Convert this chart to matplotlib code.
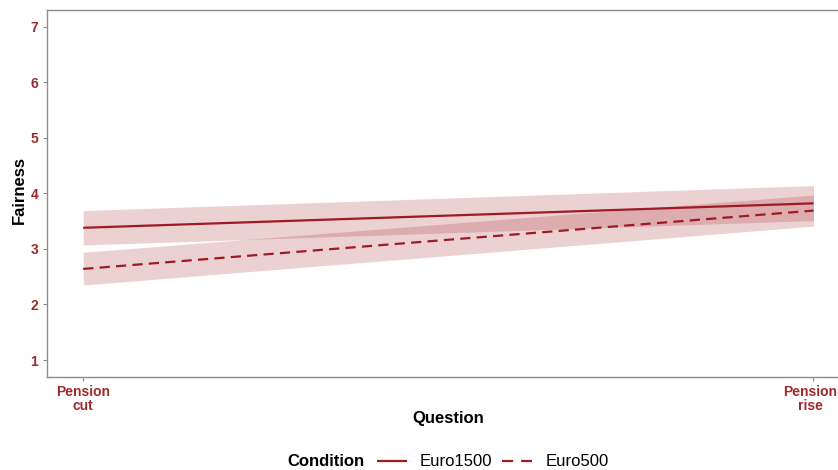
import matplotlib
matplotlib.use("Agg")
import matplotlib.pyplot as plt
import matplotlib.transforms as mtransforms
from matplotlib.lines import Line2D

plt.rcParams['font.family'] = ['Liberation Sans', 'DejaVu Sans']

# Data
questions = ["Pension\ncut", "Pension\nrise"]
x_pos = [1, 2]
conditions = ["Euro1500", "Euro500"]
fair_1500 = [3.38, 3.82]
lo_1500 = [3.07, 3.51]
hi_1500 = [3.69, 4.14]
fair_500 = [2.64, 3.69]
lo_500 = [2.35, 3.41]
hi_500 = [2.94, 3.97]
y_ticks = [1, 2, 3, 4, 5, 6, 7]

line_col = "#9E1B22"
band_col = "#A01C22"
tick_col = "#9E2A2B"
axis_col = "#8C8C8C"
W, H = 838, 470

fig = plt.figure(figsize=(W / 100, H / 100), dpi=100)
ax = fig.add_axes([46.7 / W, 93.3 / H, (850 - 46.7) / W, (376.7 - 10) / H])

ax.fill_between(x_pos, lo_1500, hi_1500, color=band_col, alpha=0.2, linewidth=0)
ax.fill_between(x_pos, lo_500, hi_500, color=band_col, alpha=0.2, linewidth=0)
ax.plot(x_pos, fair_1500, color=line_col, lw=1.6, solid_capstyle='butt')
ax.plot(x_pos, fair_500, color=line_col, lw=1.6, dashes=(4.6, 2.8))

ax.set_xlim(0.95, 2.05)
ax.set_ylim(0.7, 7.3)
ax.set_xticks(x_pos)
ax.set_xticklabels(questions, fontsize=10, fontweight='bold', color=tick_col,
                   linespacing=1.0)
ax.set_yticks(y_ticks)
ax.set_yticklabels([str(v) for v in y_ticks], fontsize=10, fontweight='bold',
                   color=tick_col)
ax.tick_params(axis='both', colors=axis_col, length=3, width=0.8, pad=3)
for lab in ax.get_xticklabels() + ax.get_yticklabels():
    lab.set_color(tick_col)

# keep the right-hand category label inside the canvas
last = ax.get_xticklabels()[-1]
last.set_transform(last.get_transform() +
                   mtransforms.ScaledTranslation(-3 / 100, 0, fig.dpi_scale_trans))

for side in ["left", "bottom", "top"]:
    ax.spines[side].set_color(axis_col)
    ax.spines[side].set_linewidth(1.0)
ax.spines["right"].set_visible(False)

ax.set_ylabel("Fairness", fontsize=12, fontweight='bold', va='center')
ax.yaxis.set_label_coords((19 - 46.7) / 803.3, (376.7 - 190) / 366.7)
ax.set_xlabel("Question", fontsize=12, fontweight='bold', va='center')
ax.xaxis.set_label_coords((448 - 46.7) / 803.3, (376.7 - 419) / 366.7)

# Legend row: bold title followed by the two line keys
y_leg = 1 - 461 / H
fig.text(364 / W, y_leg, "Condition", fontsize=12, fontweight='bold',
         ha='right', va='center')
keys = [(377, 407, 420, None), (502, 532, 546, (5.0, 3.6))]
for (x0, x1, xt, dash), name in zip(keys, conditions):
    kw = dict(color=line_col, lw=1.6, transform=fig.transFigure)
    if dash is not None:
        kw['dashes'] = dash
    else:
        kw['solid_capstyle'] = 'butt'
    fig.add_artist(Line2D([x0 / W, x1 / W], [y_leg, y_leg], **kw))
    fig.text(xt / W, y_leg, name, fontsize=12, ha='left', va='center')

fig.savefig("out.png", dpi=100)
